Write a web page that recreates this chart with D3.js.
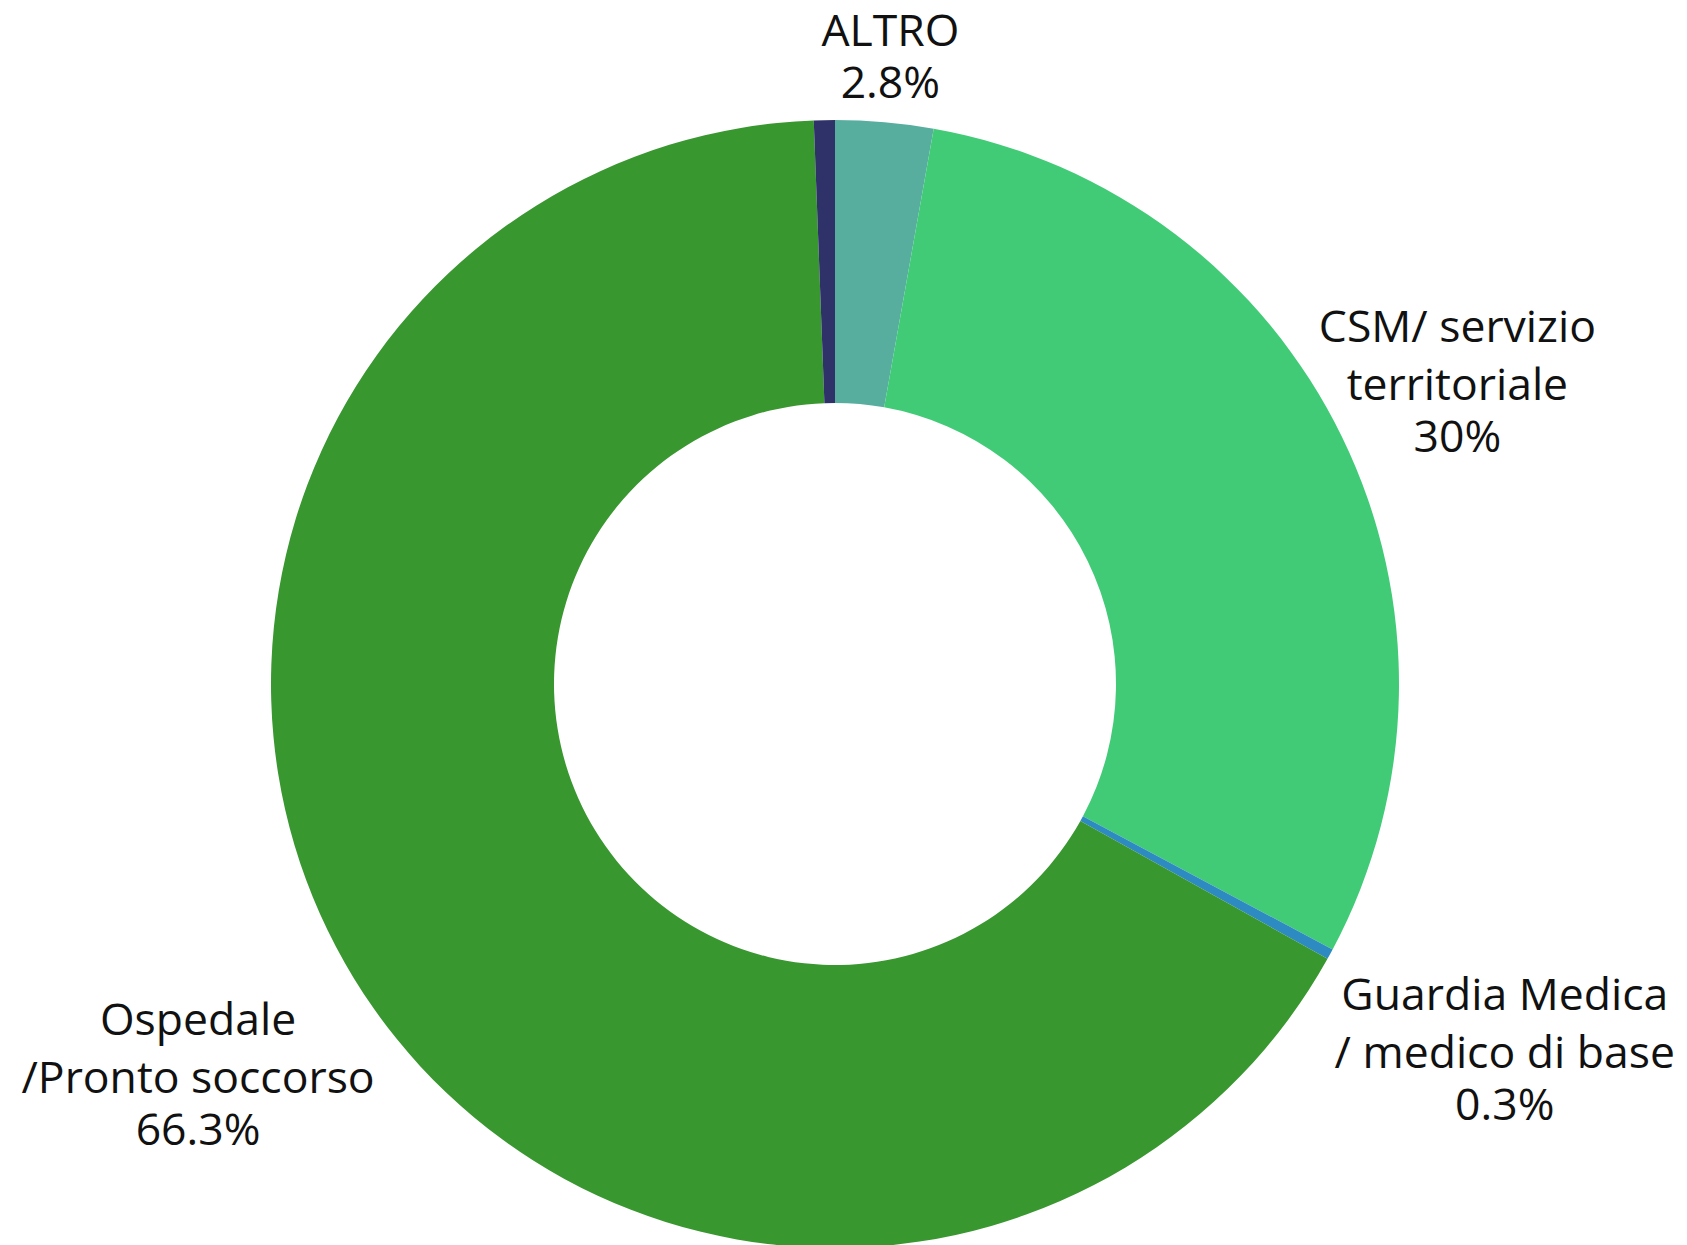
<!DOCTYPE html>
<html lang="it">
<head>
<meta charset="utf-8">
<script src="https://cdn.jsdelivr.net/npm/d3@7"></script>
<style>
  html, body { margin: 0; padding: 0; background: #ffffff; }
  svg { display: block; }
  text { font-family: "Open Sans", "Noto Sans", sans-serif; fill: #111111; }
</style>
</head>
<body>
<script>
// Canale di accesso: quote percentuali
const categories = [
  ["ALTRO"],
  ["CSM/ servizio", "territoriale"],
  ["Guardia Medica", "/ medico di base"],
  ["Ospedale", "/Pronto soccorso"],
  ["Non indicato"]
];
const values = [2.8, 30, 0.3, 66.3, 0.6];
const valueLabels = ["2.8%", "30%", "0.3%", "66.3%", ""];
const showLabel = [true, true, true, true, false];
const colors = ["#57ae9f", "#41cb77", "#2d8bc2", "#38972f", "#2e3269"];

// layout
const W = 1687, H = 1245;
const cx = 835, cy = 684;
const outerR = 564, innerR = 281;
const labelDist = [630, 692, 763, 747, 0];
const fontSize = 44.5, nameGap = 58, valueGap = 52, capH = 0.714 * fontSize;

const svg = d3.select("body").append("svg")
  .attr("width", W).attr("height", H);

const g = svg.append("g").attr("transform", `translate(${cx},${cy})`);

const pie = d3.pie().sort(null).value(d => d.v);
const arc = d3.arc().innerRadius(innerR).outerRadius(outerR);

const data = values.map((v, i) => ({ v, i }));
const arcs = pie(data);

g.selectAll("path.slice")
  .data(arcs)
  .join("path")
  .attr("class", "slice")
  .attr("d", arc)
  .attr("fill", d => colors[d.data.i]);

// labels placed along each slice's mid-angle
arcs.filter(d => showLabel[d.data.i]).forEach(d => {
  const i = d.data.i;
  const a = (d.startAngle + d.endAngle) / 2;
  const r = labelDist[i];
  const x = Math.sin(a) * r;
  const y = -Math.cos(a) * r;
  const names = categories[i];
  const blockH = capH + (names.length - 1) * nameGap + valueGap;
  const y0 = y - blockH / 2 + capH;
  const t = g.append("text")
    .attr("text-anchor", "middle")
    .attr("font-size", fontSize);
  names.forEach((line, k) => {
    t.append("tspan").attr("x", x).attr("y", y0 + k * nameGap).text(line);
  });
  t.append("tspan").attr("x", x)
    .attr("y", y0 + (names.length - 1) * nameGap + valueGap)
    .text(valueLabels[i]);
});
</script>
</body>
</html>
